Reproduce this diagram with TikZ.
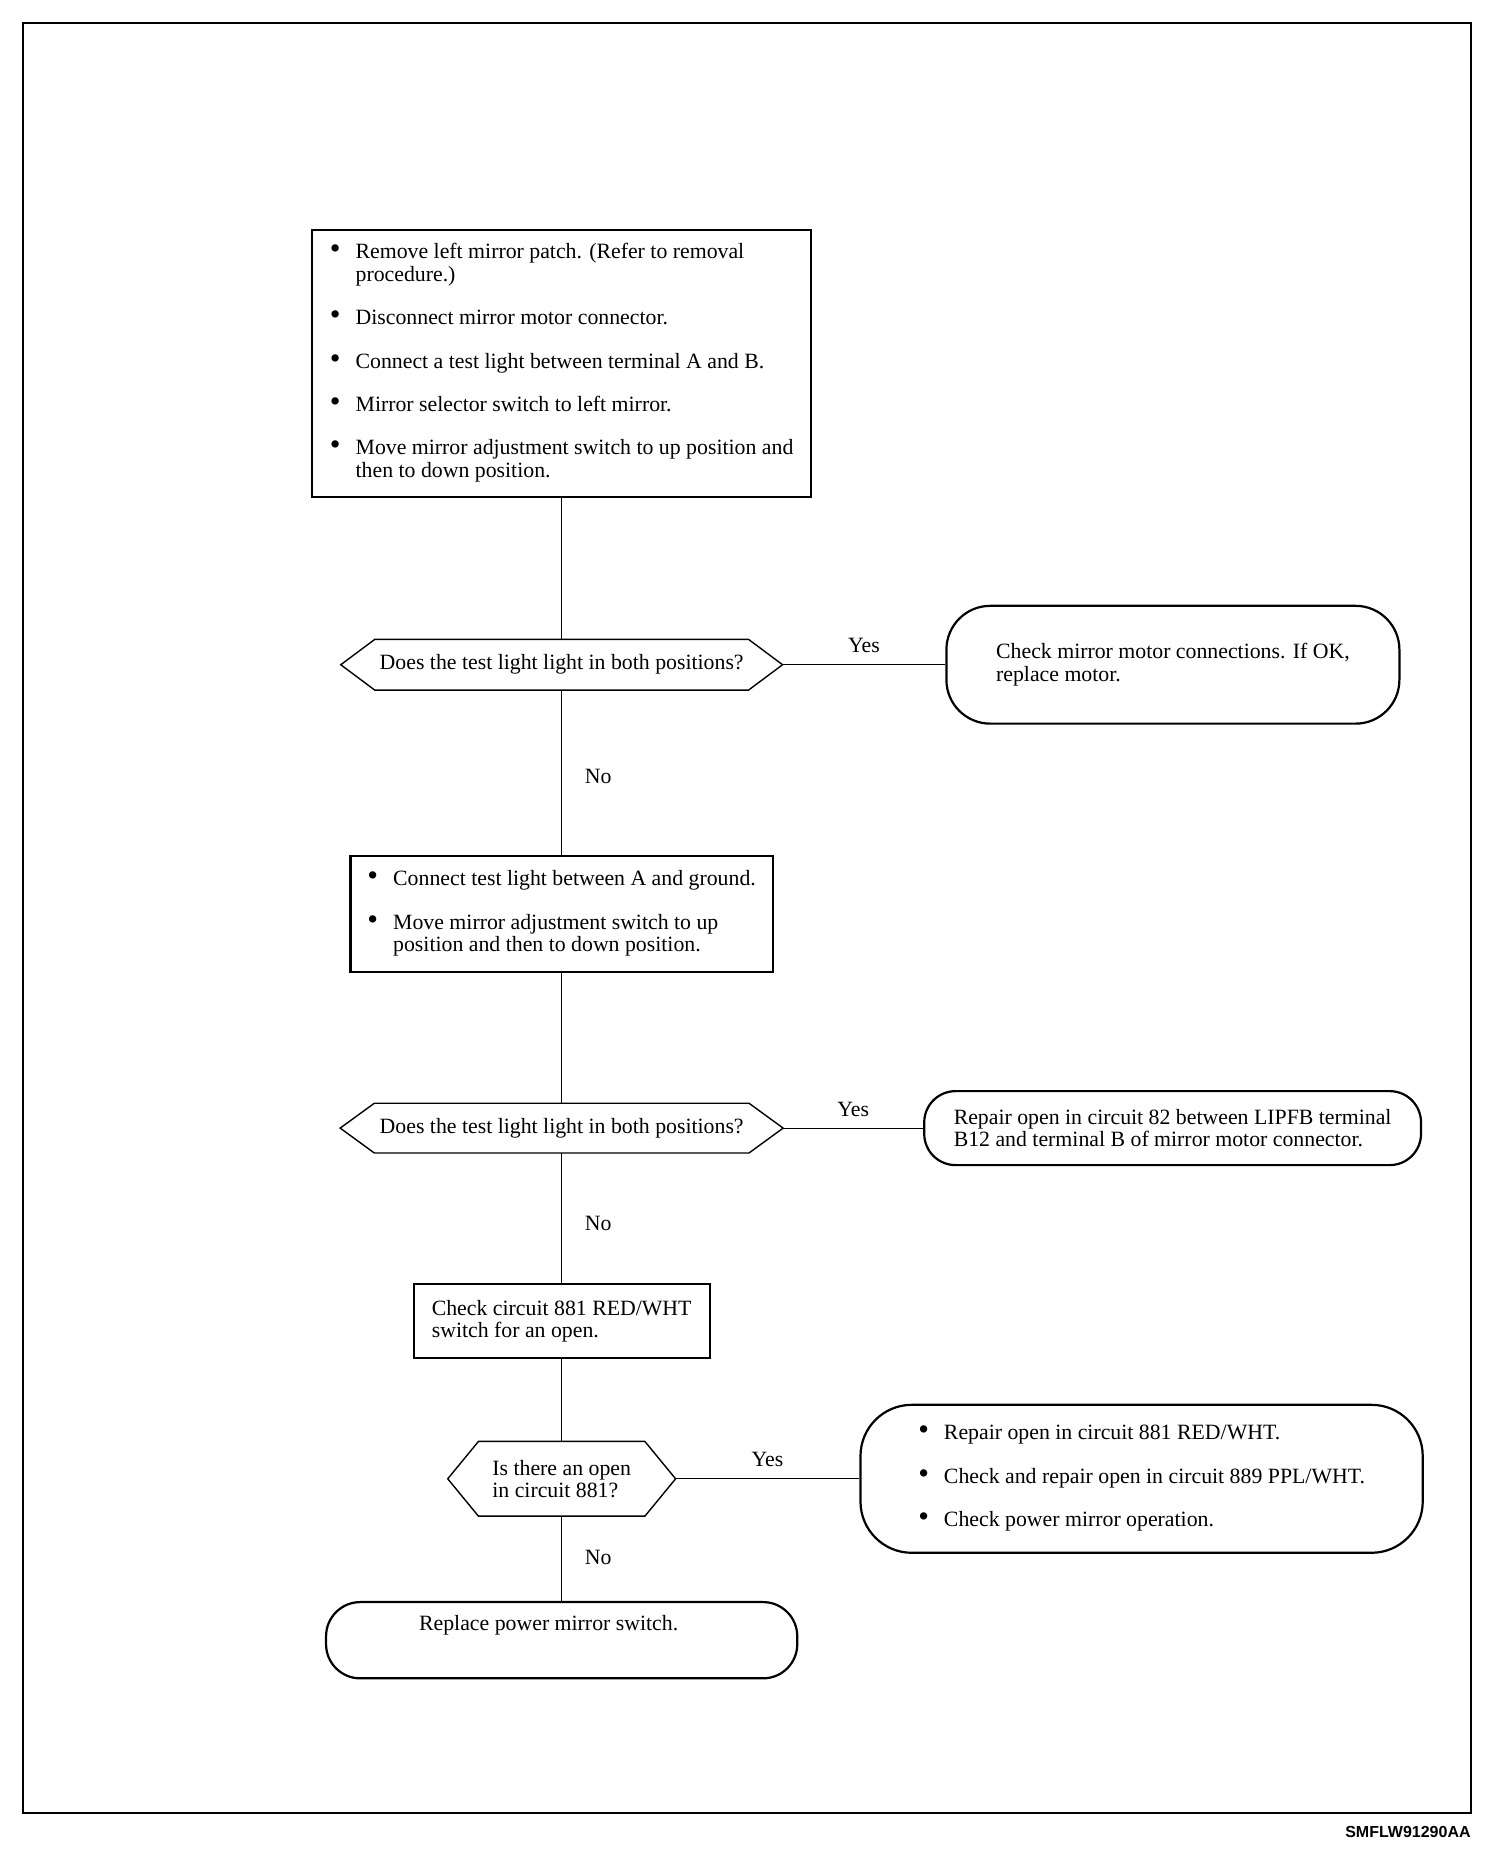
\documentclass[tikz,border=0pt]{standalone}
\usepackage{fontspec}
\setmainfont{Liberation Serif}
\setsansfont{Liberation Sans}
\usepackage{tikz}
\usetikzlibrary{positioning,calc}

\begin{document}
\begin{tikzpicture}[
every node/.style={font=\fontsize{10.9}{11.2}\selectfont},
stepbox/.style={draw, line width=1.1pt, inner sep=0pt},
query/.style={inner sep=0pt, align=left},
outcome/.style={draw, line width=1.1pt, inner sep=0pt, align=left},
link/.style={line width=0.6pt}
]
\useasboundingbox (0,0) rectangle (26.43,-32.51);
\draw[line width=1.1pt] (0.40,-0.40) rectangle (25.85,-31.86);

\node[stepbox, minimum width=8.77cm, minimum height=4.69cm] (patch) at (9.87,-6.39) {%
\begin{tabular}{@{}l@{\hspace{7.5pt}}l@{}}
\scalebox{1.4}{\textbullet} & Remove left mirror patch. (Refer to removal\\
 & procedure.)\\[10.5pt]
\scalebox{1.4}{\textbullet} & Disconnect mirror motor connector.\\[10.5pt]
\scalebox{1.4}{\textbullet} & Connect a test light between terminal A and B.\\[10.5pt]
\scalebox{1.4}{\textbullet} & Mirror selector switch to left mirror.\\[10.5pt]
\scalebox{1.4}{\textbullet} & Move mirror adjustment switch to up position and\\
 & then to down position.
\end{tabular}};
\node[query, minimum width=7.75cm, minimum height=0.88cm, below=2.48cm of patch] (test1) {Does the test light light in both positions?};
\node[outcome, rounded corners=0.77cm, minimum width=7.96cm, minimum height=2.07cm, right=2.86cm of test1] (motor) {Check mirror motor connections. If OK,\\replace motor.};
\node[stepbox, minimum width=7.42cm, minimum height=2.04cm, below=2.90cm of test1] (ground) {%
\begin{tabular}{@{}l@{\hspace{7.5pt}}l@{}}
\scalebox{1.4}{\textbullet} & Connect test light between A and ground.\\[10.5pt]
\scalebox{1.4}{\textbullet} & Move mirror adjustment switch to up\\
 & position and then to down position.
\end{tabular}};
\node[query, minimum width=7.77cm, minimum height=0.86cm, below=2.28cm of ground] (test2) {Does the test light light in both positions?};
\node[outcome, rounded corners=0.55cm, minimum width=8.73cm, minimum height=1.30cm, right=2.46cm of test2] (circuit82) {Repair open in circuit 82 between LIPFB terminal\\B12 and terminal B of mirror motor connector.};
\node[stepbox, align=left, minimum width=5.20cm, minimum height=1.30cm, below=2.29cm of test2] (check881) {Check circuit 881 RED/WHT\\switch for an open.};
\node[query, minimum width=3.99cm, minimum height=1.30cm, below=1.44cm of check881] (open881) {Is there an open\\in circuit 881?};
\node[outcome, rounded corners=0.9cm, minimum width=9.88cm, minimum height=2.60cm, right=3.23cm of open881] (repair881) {%
\begin{tabular}{@{}l@{\hspace{7.5pt}}l@{}}
\scalebox{1.4}{\textbullet} & Repair open in circuit 881 RED/WHT.\\[10.5pt]
\scalebox{1.4}{\textbullet} & Check and repair open in circuit 889 PPL/WHT.\\[10.5pt]
\scalebox{1.4}{\textbullet} & Check power mirror operation.
\end{tabular}};
\node[outcome, rounded corners=0.6cm, minimum width=8.28cm, minimum height=1.34cm, below=1.49cm of open881] (switch) {\raisebox{7.5pt}[\height][\depth]{Replace power mirror switch.}\hspace*{13pt}};

% hexagon outlines of the questions
\foreach \q/\d in {test1/0.6cm, test2/0.6cm, open881/0.54cm}
  \draw[line width=0.7pt] (\q.west) -- ([xshift=\d]\q.north west) -- ([xshift=-\d]\q.north east) -- (\q.east) -- ([xshift=-\d]\q.south east) -- ([xshift=\d]\q.south west) -- cycle;

\draw[link] (patch) -- (test1);
\draw[link] (test1) -- node[above=2.3pt]{Yes} (motor);
\draw[link] (test1) -- node[right=8pt, pos=0.52]{No} (ground);
\draw[link] (ground) -- (test2);
\draw[link] (test2) -- node[above=2.3pt]{Yes} (circuit82);
\draw[link] (test2) -- node[right=8pt, pos=0.54]{No} (check881);
\draw[link] (check881) -- (open881);
\draw[link] (open881) -- node[above=2.3pt]{Yes} (repair881);
\draw[link] (open881) -- node[right=8pt, pos=0.49]{No} (switch);

\node[anchor=east, inner sep=0pt, font=\sffamily\bfseries\fontsize{8}{9.6}\selectfont] (caption) at (25.85,-32.19) {SMFLW91290AA};
\end{tikzpicture}
\end{document}
